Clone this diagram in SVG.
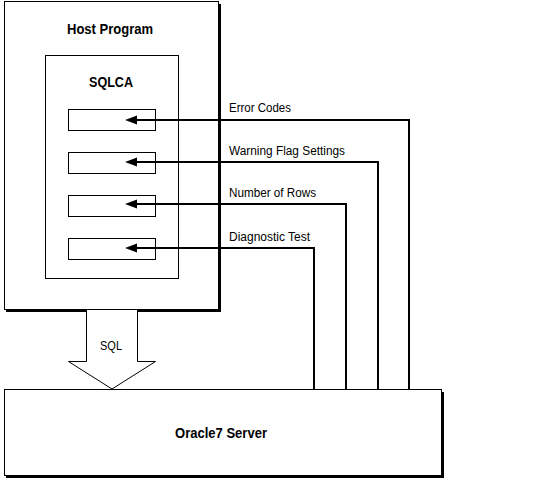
<svg xmlns="http://www.w3.org/2000/svg" width="536" height="481" viewBox="0 0 536 481">
<style>
.box{fill:#fff;stroke:#000;stroke-width:1}
.shadow{fill:#000}
.title{font-family:"Liberation Sans",Arial,sans-serif;font-weight:bold;font-size:14px;fill:#000}
.lbl{font-family:"Liberation Sans",Arial,sans-serif;font-size:12px;fill:#000}
.conn{fill:none;stroke:#000;stroke-width:2}
</style>
<defs>
<marker id="ah" markerUnits="userSpaceOnUse" markerWidth="12" markerHeight="10" refX="0" refY="5" orient="auto" overflow="visible">
<path d="M12,5 L0,0.5 L0,9.5 Z" fill="#000"/>
</marker>
</defs>
<rect width="536" height="481" fill="#fff"/>
<g id="host">
<rect class="shadow" x="6" y="4" width="215" height="308"/>
<rect class="box" x="4.5" y="1.5" width="214" height="308"/>
<text class="title" x="110" y="34" text-anchor="middle" textLength="86" lengthAdjust="spacingAndGlyphs">Host Program</text>
</g>
<g id="sqlca">
<rect class="box" x="45.5" y="55.5" width="133" height="223"/>
<text class="title" x="111" y="87" text-anchor="middle" textLength="44" lengthAdjust="spacingAndGlyphs">SQLCA</text>
<rect class="box" x="68.5" y="109.5" width="87" height="21"/>
<rect class="box" x="68.5" y="152.5" width="87" height="21"/>
<rect class="box" x="68.5" y="195.5" width="87" height="21"/>
<rect class="box" x="68.5" y="238.5" width="87" height="21"/>
</g>
<g id="server">
<rect class="shadow" x="6" y="392" width="438" height="86"/>
<rect class="box" x="4.5" y="389.5" width="437" height="86"/>
<text class="title" x="221" y="438" text-anchor="middle" textLength="92" lengthAdjust="spacingAndGlyphs">Oracle7  Server</text>
</g>
<g id="sql-arrow">
<path class="box" d="M86.5,310 L86.5,361.5 L68.5,361.5 L112,389 L155.5,361.5 L137.5,361.5 L137.5,310"/>
<text class="lbl" x="111" y="350" text-anchor="middle" textLength="22" lengthAdjust="spacingAndGlyphs">SQL</text>
</g>
<g id="connectors">
<path class="conn" d="M409,389 L409,120 L137,120" marker-end="url(#ah)"/>
<path class="conn" d="M378,389 L378,162 L137,162" marker-end="url(#ah)"/>
<path class="conn" d="M346,389 L346,204 L137,204" marker-end="url(#ah)"/>
<path class="conn" d="M314,389 L314,248 L137,248" marker-end="url(#ah)"/>
<text class="lbl" x="229" y="112" textLength="62" lengthAdjust="spacingAndGlyphs">Error Codes</text>
<text class="lbl" x="229" y="155" textLength="116" lengthAdjust="spacingAndGlyphs">Warning Flag Settings</text>
<text class="lbl" x="229" y="197" textLength="87" lengthAdjust="spacingAndGlyphs">Number of Rows</text>
<text class="lbl" x="229" y="241" textLength="81" lengthAdjust="spacingAndGlyphs">Diagnostic Test</text>
</g>
</svg>
